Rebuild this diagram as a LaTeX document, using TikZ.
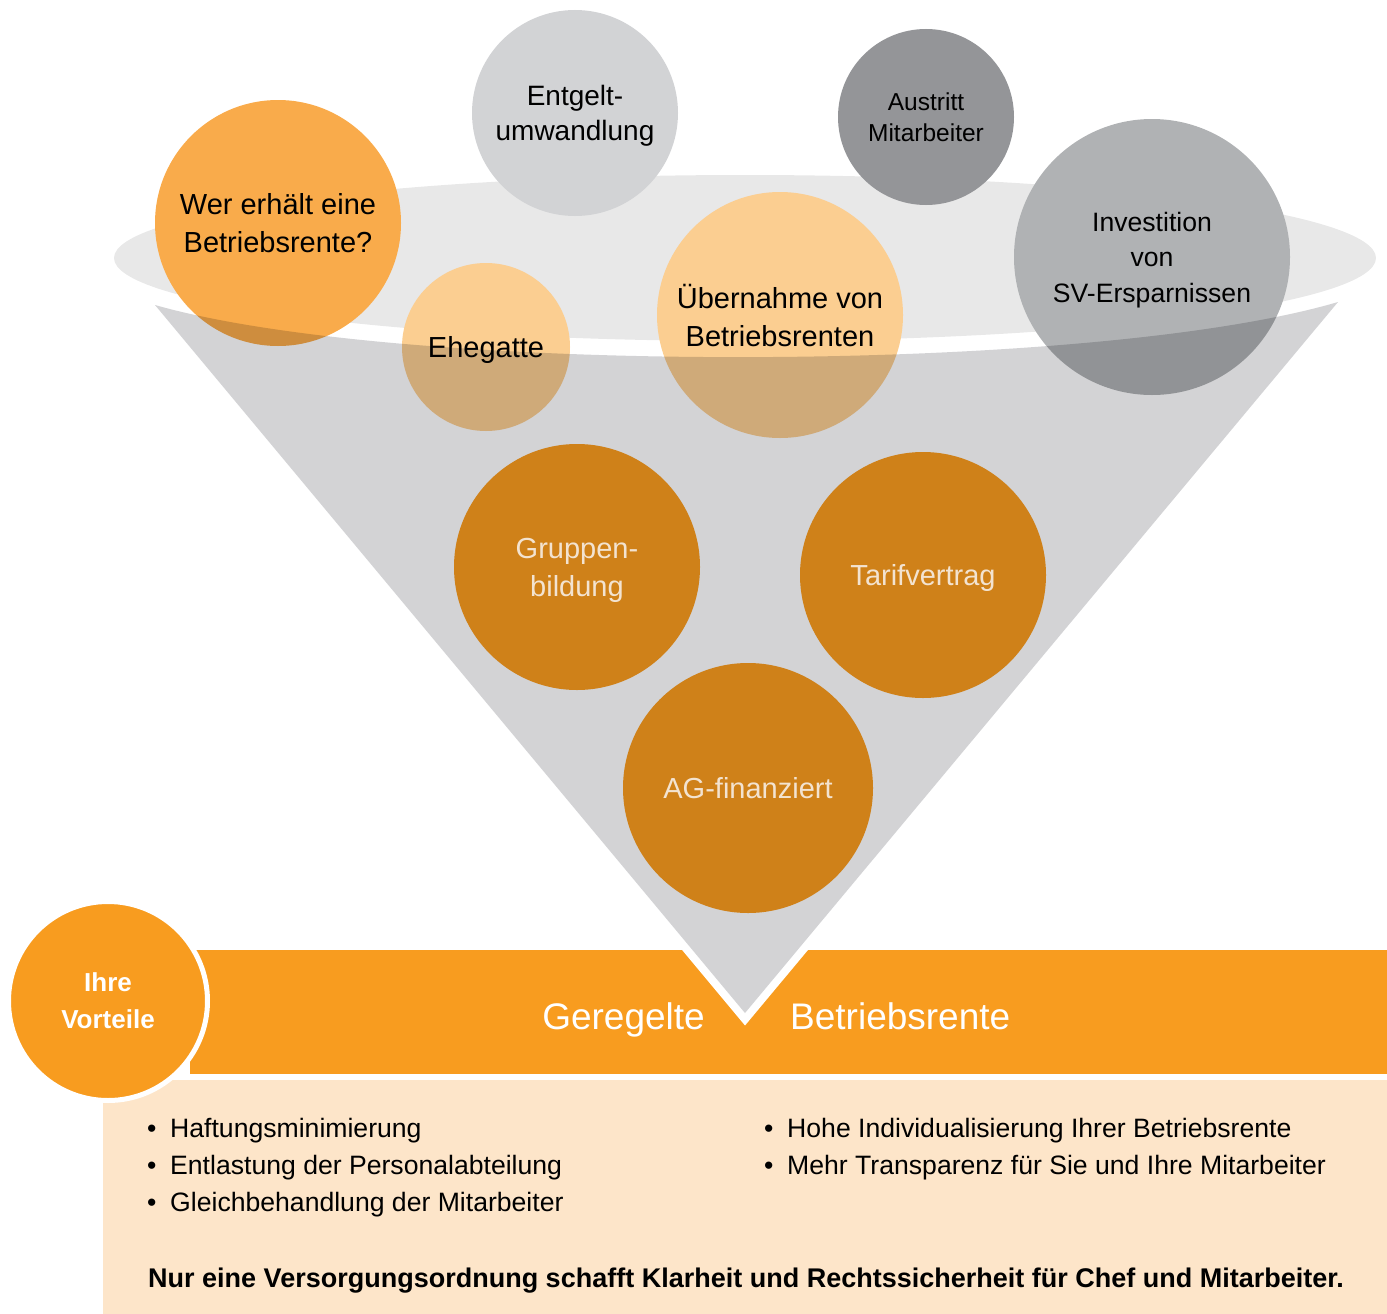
\documentclass[tikz,border=0pt]{standalone}
\usepackage{fontspec}
\setmainfont{Liberation Sans}
\definecolor{ellgray}{HTML}{E8E8E8}
\definecolor{conegray}{HTML}{D3D3D5}
\definecolor{werorange}{HTML}{F9AB4B}
\definecolor{lightorange}{HTML}{FBCE91}
\definecolor{entgray}{HTML}{D2D3D5}
\definecolor{darkgray}{HTML}{949598}
\definecolor{midgray}{HTML}{B0B2B4}
\definecolor{deeporange}{HTML}{CF8119}
\definecolor{barorange}{HTML}{F89C1F}
\definecolor{peach}{HTML}{FDE5C9}
\definecolor{creamtext}{HTML}{F3E3D0}
\begin{document}
\begin{tikzpicture}[x=1pt,y=-1pt,
  bubble/.style={circle,inner sep=0pt,align=center,text=black,text depth=0pt},
  fsA/.style={font=\fontsize{29}{38}\selectfont},
  listtext/.style={anchor=base west,font=\fontsize{26.6}{37}\selectfont,inner sep=0pt}]
\useasboundingbox (0,0) rectangle (1387,1314);
% funnel top ellipse
\fill[ellgray] (745,258) ellipse [x radius=631, y radius=83];
% upper bubbles
\node[bubble,fill=entgray,minimum size=206pt,font=\fontsize{28}{35}\selectfont] (entgelt) at (575,113) {Entgelt-\\umwandlung};
\node[bubble,fill=darkgray,minimum size=176pt,font=\fontsize{24.5}{31}\selectfont] (austritt) at (926,117) {Austritt\\Mitarbeiter};
\node[bubble,fill=midgray,minimum size=276pt,font=\fontsize{26.6}{35.5}\selectfont] (invest) at (1152,257) {Investition\\von\\SV-Ersparnissen};
\node[bubble,fill=werorange,minimum size=246pt,fsA] (wer) at (278,223) {Wer erhält eine\\Betriebsrente?};
\node[bubble,fill=lightorange,minimum size=168pt,fsA] (ehe) at (486,347) {Ehegatte};
\node[bubble,fill=lightorange,minimum size=246pt,fsA] (ueber) at (780,315) {Übernahme von\\Betriebsrenten};
% bottom bar and box
\fill[barorange] (190,950) rectangle (1387,1074);
\fill[peach] (103,1080) rectangle (1387,1314);
\coordinate (cl) at (155,305);
\coordinate (cr) at (1338,302);
\coordinate (tip) at (745,1013);
% cone (multiplied over what lies below)
\fill[conegray,blend mode=multiply] (cl) .. controls (400,375) and (1090,375) .. (cr) -- (tip) -- cycle;
% tip of the cone inside the bar, with white outline
\begin{scope}
  \clip (0,950) rectangle (1387,1074);
  \draw[white,line width=16pt,line join=miter] (cl) -- (tip) -- (cr);
  \fill[conegray] (cl) -- (tip) -- (cr) -- cycle;
\end{scope}
% lower bubbles
\node[bubble,fill=deeporange,minimum size=246pt,fsA,text=creamtext] (gruppe) at (577,567) {Gruppen-\\bildung};
\node[bubble,fill=deeporange,minimum size=246pt,fsA,text=creamtext] (tarif) at (923,575) {Tarifvertrag};
\node[bubble,fill=deeporange,minimum size=250pt,fsA,text=creamtext] (ag) at (748,788) {AG-finanziert};
% bar texts
\node[anchor=base east,inner sep=0pt,text=white,font=\fontsize{37}{44}\selectfont] (geregelte) at (705,1029) {Geregelte};
\node[anchor=base west,inner sep=0pt,text=white,font=\fontsize{37}{44}\selectfont] (brente) at (790,1029) {Betriebsrente};
% Ihre Vorteile
\node[circle,fill=barorange,draw=white,line width=5pt,minimum size=199pt,inner sep=0pt,align=center,text=white,font=\bfseries\fontsize{26}{37}\selectfont] (vorteile) at (108,1001) {Ihre\\Vorteile};
% lists
\node[listtext] (l1) at (147,1137.5) {•\hspace{13.7pt}Haftungsminimierung};
\node[listtext] (l2) at (147,1174.5) {•\hspace{13.7pt}Entlastung der Personalabteilung};
\node[listtext] (l3) at (147,1211.5) {•\hspace{13.7pt}Gleichbehandlung der Mitarbeiter};
\node[listtext] (r1) at (764,1137.5) {•\hspace{13.7pt}Hohe Individualisierung Ihrer Betriebsrente};
\node[listtext] (r2) at (764,1174.5) {•\hspace{13.7pt}Mehr Transparenz für Sie und Ihre Mitarbeiter};
\node[anchor=base west,inner sep=0pt,font=\bfseries\fontsize{27}{32}\selectfont] (summary) at (148,1287) {Nur eine Versorgungsordnung schafft Klarheit und Rechtssicherheit für Chef und Mitarbeiter.};
\end{tikzpicture}
\end{document}
